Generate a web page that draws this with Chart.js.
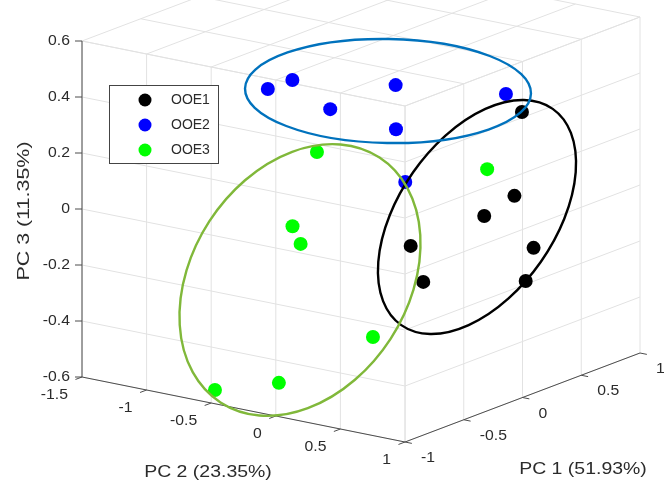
<!DOCTYPE html>
<html>
<head>
<meta charset="utf-8">
<script src="https://cdn.jsdelivr.net/npm/chart.js@4.4.1/dist/chart.umd.min.js"></script>
<style>
  html, body { margin: 0; padding: 0; background: #ffffff; }
  #wrap { width: 665px; height: 489px; }
</style>
</head>
<body>
<div id="wrap"><canvas id="pca" width="665" height="489"></canvas></div>
<script>
// ---- PCA scores (PC1, PC2, PC3) per group ----
const groupNames = ['OOE1', 'OOE2', 'OOE3'];

const ooe1PC1 = [0.49, 0.47, 0.29, -0.16, 0.38, -0.24, 0.28];
const ooe1PC2 = [0.55, 0.51, 0.44, 0.28, 0.74, 0.45, 0.77];
const ooe1PC3 = [0.30, 0.00, -0.05, -0.10, -0.15, -0.20, -0.25];

const ooe2PC1 = [-0.54, -0.54, -0.24, -0.31, -0.34, 0.09, -0.47];
const ooe2PC2 = [-0.48, -0.29, -0.27, 0.30, 0.33, 0.79, 0.52];
const ooe2PC3 = [0.45, 0.50, 0.35, 0.50, 0.35, 0.45, 0.20];

const ooe3PC1 = [0.12, -0.22, -0.25, 0.37, -0.58, -0.88, -0.71];
const ooe3PC2 = [-0.70, -0.58, -0.49, 0.39, 0.37, -0.58, -0.24];
const ooe3PC3 = [0.10, -0.10, -0.15, 0.10, -0.35, -0.58, -0.55];

// ---- axis ticks and titles ----
const pc1Ticks = [-1, -0.5, 0, 0.5, 1];
const pc2Ticks = [-1.5, -1, -0.5, 0, 0.5, 1];
const pc3Ticks = [-0.6, -0.4, -0.2, 0, 0.2, 0.4, 0.6];
const pc1Title = 'PC 1 (51.93%)';
const pc2Title = 'PC 2 (23.35%)';
const pc3Title = 'PC 3 (11.35%)';

// ---- styling ----
const groupColors = ['#000000', '#0000ff', '#00ff00'];
const ellipseColors = ['#000000', '#0072bd', '#80b83a'];
const gridColor = '#e2e2e2';
const axisColor = '#4d4d4d';
const textColor = '#2b2b2b';
const FONT = '"Liberation Sans", Arial, Helvetica, sans-serif';

// Oblique view of the box: screen direction of one unit along each PC,
// anchored at the corner (PC1 min, PC2 max, PC3 min).
const view = {
  origin: [405, 442],
  d1: [117.5, -44.5],
  d2: [129.2, 26],
  d3: [0, -280]
};
const lim1 = [pc1Ticks[0], pc1Ticks[pc1Ticks.length - 1]];
const lim2 = [pc2Ticks[0], pc2Ticks[pc2Ticks.length - 1]];
const lim3 = [pc3Ticks[0], pc3Ticks[pc3Ticks.length - 1]];

function project(p1, p2, p3) {
  const a = p1 - lim1[0], b = p2 - lim2[1], c = p3 - lim3[0];
  return {
    x: view.origin[0] + view.d1[0] * a + view.d2[0] * b + view.d3[0] * c,
    y: view.origin[1] + view.d1[1] * a + view.d2[1] * b + view.d3[1] * c
  };
}

function toPoints(a, b, c) {
  return a.map((v, i) => project(v, b[i], c[i]));
}

// Group ellipses in the view plane: centre, semi-axes, tilt (degrees)
const groupEllipses = [
  { cx: 477, cy: 217, rx: 132, ry: 78, tilt: -55 },
  { cx: 388, cy: 91, rx: 143, ry: 52, tilt: 1 },
  { cx: 300, cy: 280, rx: 146, ry: 108, tilt: -57 }
];

function drawText(ctx, str, x, y, size, align, sx, rot) {
  ctx.save();
  ctx.translate(x, y);
  if (rot) ctx.rotate(rot);
  ctx.scale(sx || 1, 1);
  ctx.font = size + 'px ' + FONT;
  ctx.fillStyle = textColor;
  ctx.textAlign = align;
  ctx.textBaseline = 'middle';
  ctx.fillText(str, 0, 0);
  ctx.restore();
}

function px(chart, pt) {
  const xs = chart.scales.x, ys = chart.scales.y;
  return [xs.getPixelForValue(pt.x), ys.getPixelForValue(pt.y)];
}

function seg(ctx, chart, A, B) {
  const a = px(chart, A), b = px(chart, B);
  ctx.beginPath();
  ctx.moveTo(a[0], a[1]);
  ctx.lineTo(b[0], b[1]);
  ctx.stroke();
}

const boxPlugin = {
  id: 'box3d',
  beforeDatasetsDraw(chart) {
    const ctx = chart.ctx;
    ctx.save();
    ctx.lineWidth = 1;
    ctx.strokeStyle = gridColor;
    // wall PC1 = min
    pc3Ticks.forEach(z => seg(ctx, chart, project(lim1[0], lim2[0], z), project(lim1[0], lim2[1], z)));
    pc2Ticks.forEach(y => seg(ctx, chart, project(lim1[0], y, lim3[0]), project(lim1[0], y, lim3[1])));
    // wall PC2 = max
    pc3Ticks.forEach(z => seg(ctx, chart, project(lim1[0], lim2[1], z), project(lim1[1], lim2[1], z)));
    pc1Ticks.forEach(x => seg(ctx, chart, project(x, lim2[1], lim3[0]), project(x, lim2[1], lim3[1])));
    // plane PC3 = max
    pc1Ticks.forEach(x => seg(ctx, chart, project(x, lim2[0], lim3[1]), project(x, lim2[1], lim3[1])));
    pc2Ticks.forEach(y => seg(ctx, chart, project(lim1[0], y, lim3[1]), project(lim1[1], y, lim3[1])));

    // axis lines
    ctx.strokeStyle = axisColor;
    seg(ctx, chart, project(lim1[0], lim2[0], lim3[0]), project(lim1[0], lim2[0], lim3[1]));
    seg(ctx, chart, project(lim1[0], lim2[0], lim3[0]), project(lim1[0], lim2[1], lim3[0]));
    seg(ctx, chart, project(lim1[0], lim2[1], lim3[0]), project(lim1[1], lim2[1], lim3[0]));

    // PC3 ticks and labels
    pc3Ticks.forEach(z => {
      const p = px(chart, project(lim1[0], lim2[0], z));
      ctx.beginPath(); ctx.moveTo(p[0], p[1]); ctx.lineTo(p[0] - 7, p[1]); ctx.stroke();
      drawText(ctx, String(z), p[0] - 12, p[1], 15, 'right', 1.05);
    });
    // PC2 ticks and labels
    const n1 = Math.hypot(view.d1[0], view.d1[1]);
    const t2 = [-view.d1[0] / n1 * 7, -view.d1[1] / n1 * 7];
    pc2Ticks.forEach(y => {
      const p = px(chart, project(lim1[0], y, lim3[0]));
      ctx.beginPath(); ctx.moveTo(p[0], p[1]); ctx.lineTo(p[0] + t2[0], p[1] + t2[1]); ctx.stroke();
      drawText(ctx, String(y), p[0] - 14, p[1] + 18, 15, 'right', 1.05);
    });
    // PC1 ticks and labels
    const n2 = Math.hypot(view.d2[0], view.d2[1]);
    const t1 = [view.d2[0] / n2 * 7, view.d2[1] / n2 * 7];
    pc1Ticks.forEach(x => {
      const p = px(chart, project(x, lim2[1], lim3[0]));
      ctx.beginPath(); ctx.moveTo(p[0], p[1]); ctx.lineTo(p[0] + t1[0], p[1] + t1[1]); ctx.stroke();
      drawText(ctx, String(x), p[0] + 16, p[1] + 16, 15, 'left', 1.05);
    });

    // axis titles
    drawText(ctx, pc2Title, 208, 472, 16.5, 'center', 1.18);
    drawText(ctx, pc1Title, 583, 469, 16.5, 'center', 1.18);
    drawText(ctx, pc3Title, 24, 211, 16.5, 'center', 1.3, -Math.PI / 2);
    ctx.restore();
  },
  afterDatasetsDraw(chart) {
    const ctx = chart.ctx;
    const xs = chart.scales.x, ys = chart.scales.y;
    const kx = Math.abs(xs.getPixelForValue(1) - xs.getPixelForValue(0));
    const ky = Math.abs(ys.getPixelForValue(1) - ys.getPixelForValue(0));
    ctx.save();
    ctx.lineWidth = 2.4;
    groupEllipses.forEach((e, i) => {
      ctx.strokeStyle = ellipseColors[i];
      ctx.beginPath();
      ctx.ellipse(xs.getPixelForValue(e.cx), ys.getPixelForValue(e.cy),
        e.rx * kx, e.ry * ky, e.tilt * Math.PI / 180, 0, Math.PI * 2);
      ctx.stroke();
    });
    ctx.restore();
  },
  afterDraw(chart) {
    // legend box
    const ctx = chart.ctx;
    ctx.save();
    ctx.fillStyle = '#ffffff';
    ctx.fillRect(109.5, 85.5, 109, 78);
    ctx.strokeStyle = '#444444';
    ctx.lineWidth = 1;
    ctx.strokeRect(109.5, 85.5, 109, 78);
    groupNames.forEach((name, i) => {
      const y = 100 + i * 25;
      ctx.fillStyle = groupColors[i];
      ctx.beginPath();
      ctx.arc(145, y, 6.5, 0, Math.PI * 2);
      ctx.fill();
      drawText(ctx, name, 171, y, 14, 'left', 1.0);
    });
    ctx.restore();
  }
};

const datasets = [
  toPoints(ooe1PC1, ooe1PC2, ooe1PC3),
  toPoints(ooe2PC1, ooe2PC2, ooe2PC3),
  toPoints(ooe3PC1, ooe3PC2, ooe3PC3)
].map((pts, i) => ({
  label: groupNames[i],
  data: pts,
  backgroundColor: groupColors[i],
  borderWidth: 0,
  pointRadius: 7,
  pointHoverRadius: 7
}));

new Chart(document.getElementById('pca'), {
  type: 'scatter',
  data: { datasets },
  options: {
    responsive: false,
    animation: false,
    devicePixelRatio: 1,
    events: [],
    layout: { padding: 0, autoPadding: false },
    plugins: { legend: { display: false }, tooltip: { enabled: false } },
    scales: {
      x: { type: 'linear', min: 0, max: 665, display: false },
      y: { type: 'linear', min: 0, max: 489, reverse: true, display: false }
    }
  },
  plugins: [boxPlugin]
});
</script>
</body>
</html>
